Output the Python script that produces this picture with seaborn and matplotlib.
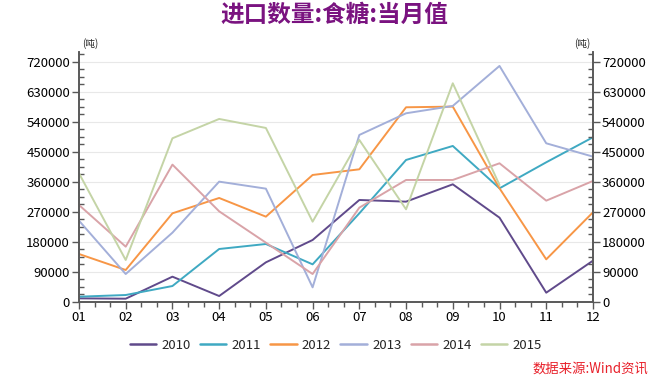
import matplotlib
matplotlib.use('Agg')
import matplotlib.pyplot as plt
import seaborn as sns
import pandas as pd
from matplotlib.ticker import MultipleLocator, AutoMinorLocator

months = ['01', '02', '03', '04', '05', '06', '07', '08', '09', '10', '11', '12']
years = ['2010', '2011', '2012', '2013', '2014', '2015']

s2010 = [10000, 9000, 75000, 17000, 118000, 185000, 305000, 300000, 352000, 252000, 27000, 123000]
s2011 = [15000, 20000, 47000, 158000, 173000, 112000, 265000, 425000, 467000, 340000, 418000, 493000]
s2012 = [143000, 95000, 265000, 311000, 255000, 380000, 397000, 583000, 585000, 340000, 127000, 268000]
s2013 = [243000, 83000, 207000, 360000, 339000, 43000, 500000, 565000, 587000, 707000, 475000, 435000]
s2014 = [290000, 165000, 411000, 271000, 177000, 83000, 282000, 365000, 365000, 415000, 303000, 362000]
s2015 = [385000, 125000, 490000, 548000, 521000, 240000, 485000, 277000, 655000, 350000]

colors = ['#604a8b', '#3fa9c2', '#f79646', '#a3afd9', '#d9a3a8', '#c4d4a6']

rows = []
for yr, vals in zip(years, [s2010, s2011, s2012, s2013, s2014, s2015]):
    for i, v in enumerate(vals):
        rows.append({'month': i + 1, 'value': v, 'year': yr})
df = pd.DataFrame(rows)

sns.set_style('white')
plt.rcParams['font.family'] = ['Noto Sans CJK SC', 'DejaVu Sans']

fig = plt.figure(figsize=(6.56, 3.83), dpi=100)
ax = fig.add_axes([0.1204, 0.2123, 0.7835, 0.653])
sns.lineplot(data=df, x='month', y='value', hue='year', palette=colors,
             ax=ax, linewidth=1.4, sort=False)

axis_col = '#595959'
ax.set_xlim(1, 12)
ax.set_ylim(0, 750000)
ax.set_xticks(range(1, 13))
ax.set_xticklabels(months)
ax.xaxis.set_minor_locator(AutoMinorLocator(3))
ax.yaxis.set_major_locator(MultipleLocator(90000))
ax.yaxis.set_minor_locator(AutoMinorLocator(4))
ax.set_xlabel('')
ax.set_ylabel('')
ax.grid(axis='y', which='major', color='#e8e8e8', linewidth=0.8)
ax.set_axisbelow(True)

tw = ax.twinx()
tw.set_ylim(0, 750000)
tw.yaxis.set_major_locator(MultipleLocator(90000))
tw.yaxis.set_minor_locator(AutoMinorLocator(4))

for a in (ax, tw):
    a.spines['top'].set_visible(False)
    for s in ('left', 'right', 'bottom'):
        a.spines[s].set_color(axis_col)
        a.spines[s].set_linewidth(1.2)
    a.tick_params(which='major', direction='out', length=5, width=1, color=axis_col,
                  labelsize=9.5, labelcolor='black', pad=1.5)
    a.tick_params(axis='y', which='minor', direction='in', length=3.5, width=1, color=axis_col)
ax.tick_params(axis='x', which='minor', direction='out', length=3.5, width=1, color=axis_col)
ax.tick_params(axis='y', left=True, right=False, which='both')
ax.tick_params(axis='x', bottom=True, top=False, which='both')
tw.tick_params(axis='y', right=True, left=False, which='both')

fig.text(0.125, 0.872, '(吨)', fontsize=7, ha='left', va='bottom')
fig.text(0.9, 0.872, '(吨)', fontsize=7, ha='right', va='bottom')

handles, labels = ax.get_legend_handles_labels()
ax.get_legend().remove()
for h in handles:
    h.set_linewidth(1.8)
fig.legend(handles, labels, loc='center', bbox_to_anchor=(0.512, 0.099), ncol=6,
           frameon=False, fontsize=9.5, handlelength=2.0, columnspacing=0.7,
           handletextpad=0.4)

fig.text(0.51, 0.96, '进口数量:食糖:当月值', fontsize=17, fontweight='heavy',
         color='#7a1380', ha='center', va='center')
fig.text(0.988, 0.038, '数据来源:Wind资讯', fontsize=9.6, color='#e8202a',
         style='italic', ha='right', va='center')

fig.savefig('out.png', dpi=100)
